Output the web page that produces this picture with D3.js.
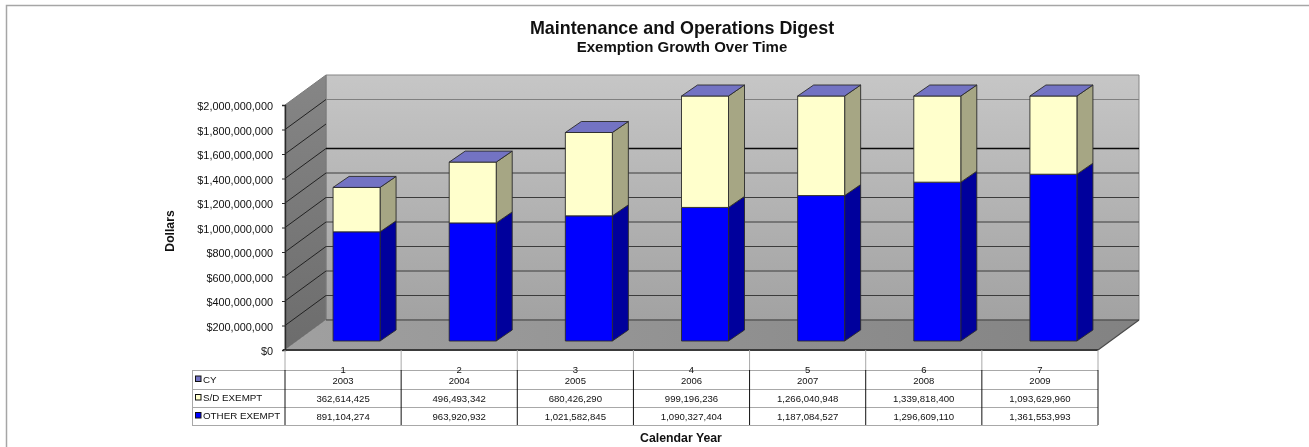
<!DOCTYPE html>
<html lang="en">
<head>
<meta charset="UTF-8">
<title>Maintenance and Operations Digest</title>
<script src="https://cdn.jsdelivr.net/npm/d3@7"></script>
<style>
    html, body { margin: 0; padding: 0; background: #fff; overflow: hidden; }
    svg { display: block; filter: blur(0.3px); }
    text { font-family: "Liberation Sans", Arial, sans-serif; fill: #111; }
</style>
</head>
<body>
<div id="chart"></div>
<script>
const yearIndex = ["1", "2", "3", "4", "5", "6", "7"];
const years = [2003, 2004, 2005, 2006, 2007, 2008, 2009];
const sdExempt = [362614425, 496493342, 680426290, 999196236, 1266040948, 1339818400, 1093629960];
const otherExempt = [891104274, 963920932, 1021582845, 1090327404, 1187084527, 1296609110, 1361553993];
const seriesNames = ["CY", "S/D EXEMPT", "OTHER EXEMPT"];

const width = 1309, height = 447;
const dx = 41, dy = -30;          // depth of the box
const barDx = 16, barDy = -11;    // depth of one bar
const plotLeft = 285, plotRight = 1098, plotBottom = 350, plotTop = 105;
const tableLeft = 192;
const rowLines = [370, 389, 407, 425];

const svg = d3.select("#chart").append("svg").attr("width", width).attr("height", height);

const x = d3.scaleBand().domain(yearIndex).range([plotLeft, plotRight]);
const y = d3.scaleLinear().domain([0, 2000000000]).range([plotBottom, plotTop]).clamp(true);
const colors = {
    "OTHER EXEMPT": { front: "#0000ff", side: "#00009c", top: "#0000c0" },
    "S/D EXEMPT": { front: "#ffffcc", side: "#a6a684", top: "#7373c3" },
    "CY": { front: "#7373c3", side: "#55558f", top: "#7373c3" }
};

// gradients for the walls
const defs = svg.append("defs");
function gradient(id, c1, c2, horizontal) {
    const g = defs.append("linearGradient").attr("id", id).attr("x1", 0).attr("y1", 0)
        .attr("x2", horizontal ? 1 : 0).attr("y2", horizontal ? 0 : 1);
    g.append("stop").attr("offset", 0).attr("stop-color", c1);
    g.append("stop").attr("offset", 1).attr("stop-color", c2);
}
gradient("backWall", "#c6c6c6", "#a2a2a2");
gradient("sideWall", "#868686", "#6c6c6c");
gradient("floor", "#a0a0a0", "#828282", true);

// outer chart border, only top and left show
svg.append("path").attr("d", `M6.5 447V5.5H${width}`).attr("fill", "none").attr("stroke", "#a6a6a6").attr("stroke-width", 1.5);

// titles
svg.append("text").attr("x", 682).attr("y", 34).attr("text-anchor", "middle")
    .style("font-weight", "bold").style("font-size", "17.9px").text("Maintenance and Operations Digest");
svg.append("text").attr("x", 682).attr("y", 51.5).attr("text-anchor", "middle")
    .style("font-weight", "bold").style("font-size", "15px").text("Exemption Growth Over Time");
svg.append("text").attr("transform", "translate(174,231) rotate(-90)").attr("text-anchor", "middle")
    .style("font-weight", "bold").style("font-size", "12.2px").text("Dollars");
svg.append("text").attr("x", 681).attr("y", 441.5).attr("text-anchor", "middle")
    .style("font-weight", "bold").style("font-size", "12.3px").text("Calendar Year");

// walls and floor
const poly = pts => "M" + pts.map(p => p.join(",")).join("L") + "Z";
svg.append("path").attr("d", poly([[plotLeft + dx, plotTop + dy], [plotRight + dx, plotTop + dy], [plotRight + dx, plotBottom + dy], [plotLeft + dx, plotBottom + dy]]))
    .attr("fill", "url(#backWall)").attr("stroke", "#858585");
svg.append("path").attr("d", poly([[plotLeft, plotTop], [plotLeft + dx, plotTop + dy], [plotLeft + dx, plotBottom + dy], [plotLeft, plotBottom]]))
    .attr("fill", "url(#sideWall)").attr("stroke", "#7a7a7a");
svg.append("path").attr("d", poly([[plotLeft, plotBottom], [plotLeft + dx, plotBottom + dy], [plotRight + dx, plotBottom + dy], [plotRight, plotBottom]]))
    .attr("fill", "url(#floor)").attr("stroke", "none");

// gridlines on the back and side walls
const gridStyle = v => v === 1800000000 ? { c: "#808080", w: 1 }
    : v === 1600000000 ? { c: "none", w: 0 }
    : v === 1400000000 ? { c: "#0a0a0a", w: 1.4 }
    : { c: "#3c3c3c", w: 1.1 };
const gridTicks = y.ticks(10).filter(d => d > 0 && d < 2000000000);
svg.append("g").selectAll("line").data(gridTicks).join("line")
    .attr("x1", plotLeft + dx).attr("x2", plotRight + dx)
    .attr("y1", d => y(d) + dy).attr("y2", d => y(d) + dy)
    .attr("stroke", d => gridStyle(d).c).attr("stroke-width", d => gridStyle(d).w);
svg.append("line").attr("x1", plotLeft + dx).attr("x2", plotRight + dx).attr("y1", plotBottom + dy).attr("y2", plotBottom + dy)
    .attr("stroke", "#404040").attr("stroke-width", 1.2);
svg.append("g").selectAll("line").data(gridTicks).join("line")
    .attr("x1", plotLeft).attr("x2", plotLeft + dx)
    .attr("y1", d => y(d)).attr("y2", d => y(d) + dy)
    .attr("stroke", "#222").attr("stroke-width", 1);

// stacked bars
const rows = yearIndex.map((k, i) => ({ key: k, "OTHER EXEMPT": otherExempt[i], "S/D EXEMPT": sdExempt[i], "CY": years[i] }));
const stacked = d3.stack().keys(["OTHER EXEMPT", "S/D EXEMPT", "CY"])(rows);
const barW = 47, barOffset = 13.5, floorLift = 9;   // bars stand inside the floor
const edge = { stroke: "#2a2a2a", "stroke-width": 0.9, "stroke-linejoin": "round" };

function drawFace(g, pts, fill) {
    const p = g.append("path").attr("d", poly(pts)).attr("fill", fill);
    Object.entries(edge).forEach(([k, v]) => p.attr(k, v));
}
const bars = svg.append("g");
rows.forEach((row, i) => {
    const g = bars.append("g");
    const x0 = x(row.key) + (x.bandwidth() - barW) / 2 + barOffset, x1 = x0 + barW;
    stacked.slice(0, 2).forEach(s => {
        const yLow = y(s[i][0]) - floorLift, yHigh = y(s[i][1]) - floorLift;
        const c = colors[s.key];
        drawFace(g, [[x1, yLow], [x1 + barDx, yLow + barDy], [x1 + barDx, yHigh + barDy], [x1, yHigh]], c.side);
        drawFace(g, [[x0, yLow], [x1, yLow], [x1, yHigh], [x0, yHigh]], c.front);
    });
    // cap is the CY series, too small to have any height
    const cap = y(stacked[2][i][1]) - floorLift;
    drawFace(g, [[x0, cap], [x1, cap], [x1 + barDx, cap + barDy], [x0 + barDx, cap + barDy]], colors.CY.top);
});

// floor edges and y axis
svg.append("line").attr("x1", plotLeft - 2).attr("x2", plotRight).attr("y1", plotBottom).attr("y2", plotBottom).attr("stroke", "#3a3a3a").attr("stroke-width", 1.8);
svg.append("line").attr("x1", plotRight).attr("x2", plotRight + dx).attr("y1", plotBottom).attr("y2", plotBottom + dy).attr("stroke", "#4a4a4a").attr("stroke-width", 1.2);

const yAxis = d3.axisLeft(y).ticks(10).tickSize(3).tickPadding(9).tickFormat(d3.format("$,"));
const axisG = svg.append("g").attr("transform", `translate(${plotLeft},0)`).call(yAxis);
axisG.attr("font-family", null);
axisG.select(".domain").attr("stroke", "#2a2a2a").attr("stroke-width", 1.4);
axisG.selectAll(".tick line").attr("stroke", "#2a2a2a");
axisG.selectAll("text").style("font-size", "10.9px").attr("dy", "0.42em");

// data table under the chart
const table = svg.append("g");
const colEdges = yearIndex.map(k => x(k)).concat(plotRight);
table.selectAll(".stub").data(colEdges).join("line").attr("class", "stub")
    .attr("x1", d => d).attr("x2", d => d).attr("y1", plotBottom).attr("y2", rowLines[0]).attr("stroke", "#a8a8a8");
table.selectAll(".row").data(rowLines).join("line").attr("class", "row")
    .attr("x1", tableLeft).attr("x2", plotRight).attr("y1", d => d + 0.5).attr("y2", d => d + 0.5).attr("stroke", "#a8a8a8");
table.append("line").attr("x1", tableLeft + 0.5).attr("x2", tableLeft + 0.5).attr("y1", rowLines[0]).attr("y2", rowLines[3]).attr("stroke", "#a8a8a8");
table.selectAll(".col").data(colEdges).join("line").attr("class", "col")
    .attr("x1", d => d).attr("x2", d => d).attr("y1", rowLines[0]).attr("y2", rowLines[3]).attr("stroke", "#111");

const rowCenter = i => (rowLines[i] + rowLines[i + 1]) / 2;
seriesNames.forEach((name, r) => {
    table.append("rect").attr("x", 195.5).attr("y", rowCenter(r) - 3.5).attr("width", 5.5).attr("height", 5.5)
        .attr("fill", colors[name].front).attr("stroke", "#111").attr("stroke-width", 1);
    table.append("text").attr("x", 203).attr("y", rowCenter(r) + 3).style("font-size", "9.8px").text(name);
});
const center = k => x(k) + x.bandwidth() / 2;
const numFmt = d3.format(",");
yearIndex.forEach((k, i) => {
    table.append("text").attr("x", center(k)).attr("y", 372.5).attr("text-anchor", "middle").style("font-size", "9.5px").text(k);
    table.append("text").attr("x", center(k)).attr("y", 383.5).attr("text-anchor", "middle").style("font-size", "9.5px").text(years[i]);
    table.append("text").attr("x", center(k)).attr("y", rowCenter(1) + 3.5).attr("text-anchor", "middle").style("font-size", "9.6px").text(numFmt(sdExempt[i]));
    table.append("text").attr("x", center(k)).attr("y", rowCenter(2) + 3.5).attr("text-anchor", "middle").style("font-size", "9.6px").text(numFmt(otherExempt[i]));
});
</script>
</body>
</html>
